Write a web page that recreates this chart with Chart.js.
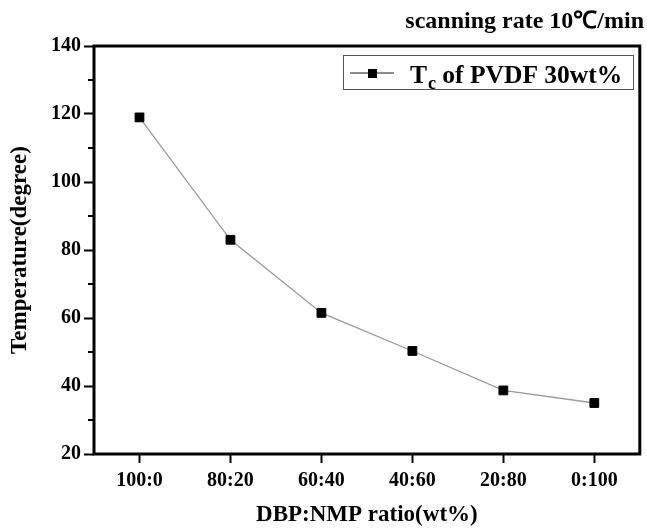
<!DOCTYPE html>
<html>
<head>
<meta charset="utf-8">
<script src="https://cdn.jsdelivr.net/npm/chart.js@4.4.1/dist/chart.umd.min.js"></script>
<style>
  html, body { margin: 0; padding: 0; background: #fff; }
  #wrap { width: 647px; height: 529px; position: relative; }
</style>
</head>
<body>
<div id="wrap"><canvas id="c" width="647" height="529"></canvas></div>
<script>
const categories = ["100:0", "80:20", "60:40", "40:60", "20:80", "0:100"];
const tcValues = [119, 83, 61.5, 50.3, 38.7, 35];
const yTicks = [20, 40, 60, 80, 100, 120, 140];
const yMinorTicks = [30, 50, 70, 90, 110, 130];
const chartTitle = "scanning rate 10\u2103/min";
const legendMain = "T";
const legendSub = "c";
const legendRest = " of PVDF 30wt%";
const xTitle = "DBP:NMP ratio(wt%)";
const yTitle = "Temperature(degree)";

const SERIF = "'Liberation Serif', 'Times New Roman', serif";

const decor = {
  id: 'decor',
  afterDatasetsDraw(chart) {
    const ctx = chart.ctx;
    const a = chart.chartArea;
    const y = chart.scales.y;
    ctx.save();
    // frame
    ctx.strokeStyle = '#000';
    ctx.lineWidth = 3;
    ctx.strokeRect(a.left, a.top, a.right - a.left, a.bottom - a.top);
    // minor ticks on y
    ctx.lineWidth = 2;
    yMinorTicks.forEach(v => {
      const py = Math.round(y.getPixelForValue(v));
      ctx.beginPath();
      ctx.moveTo(a.left - 6, py);
      ctx.lineTo(a.left, py);
      ctx.stroke();
    });
    // title
    ctx.fillStyle = '#000';
    ctx.font = "bold 24px " + SERIF;
    ctx.textAlign = 'right';
    ctx.textBaseline = 'middle';
    ctx.fillText(chartTitle, 644, 22);
    // legend box
    ctx.strokeStyle = '#555';
    ctx.lineWidth = 1;
    ctx.strokeRect(343.5, 55.5, 290, 34);
    // legend sample
    ctx.strokeStyle = '#666';
    ctx.lineWidth = 1.5;
    ctx.beginPath();
    ctx.moveTo(350, 73);
    ctx.lineTo(394, 73);
    ctx.stroke();
    ctx.fillStyle = '#000';
    ctx.fillRect(368, 69, 9, 9);
    // legend text
    ctx.textAlign = 'left';
    ctx.textBaseline = 'alphabetic';
    ctx.font = "bold 25.5px " + SERIF;
    let x = 410;
    ctx.fillText(legendMain, x, 83);
    x += ctx.measureText(legendMain).width + 1;
    ctx.font = "bold 18px " + SERIF;
    ctx.fillText(legendSub, x, 89);
    x += ctx.measureText(legendSub).width;
    ctx.font = "bold 25.5px " + SERIF;
    ctx.fillText(legendRest, x, 83);
    ctx.restore();
  }
};

new Chart(document.getElementById('c'), {
  type: 'line',
  data: {
    labels: categories,
    datasets: [{
      label: 'Tc of PVDF 30wt%',
      data: tcValues,
      borderColor: '#999',
      borderWidth: 1.3,
      pointStyle: 'rect',
      pointRadius: 6.2,
      pointBackgroundColor: '#000',
      pointBorderColor: '#000',
      pointBorderWidth: 1,
      tension: 0,
      fill: false
    }]
  },
  options: {
    responsive: false,
    animation: false,
    devicePixelRatio: 1,
    layout: { padding: { left: 0, right: 5, top: 46, bottom: 0 } },
    plugins: {
      legend: { display: false },
      title: { display: false },
      tooltip: { enabled: false }
    },
    scales: {
      x: {
        type: 'category',
        offset: true,
        afterFit(s) { s.height = 75; },
        grid: {
          display: true, drawOnChartArea: false, drawTicks: true, offset: false,
          tickLength: 9, tickWidth: 2, tickColor: '#000', color: '#000'
        },
        border: { display: false },
        ticks: {
          color: '#000', padding: 6, maxRotation: 0,
          font: { family: SERIF, size: 20, weight: 'bold' }
        },
        title: {
          display: true, text: xTitle, color: '#000',
          padding: { top: 0, bottom: 0 },
          font: { family: SERIF, size: 23, weight: 'bold' }
        }
      },
      y: {
        min: 20, max: 140,
        afterFit(s) { s.width = 94; },
        afterBuildTicks(s) { s.ticks = yTicks.map(v => ({ value: v })); },
        grid: {
          display: true, drawOnChartArea: false, drawTicks: true,
          tickLength: 10, tickWidth: 2, tickColor: '#000', color: '#000'
        },
        border: { display: false },
        ticks: {
          color: '#000', padding: 3,
          font: { family: SERIF, size: 20, weight: 'bold' }
        },
        title: {
          display: true, text: yTitle, color: '#000',
          padding: { top: 6, bottom: 0 },
          font: { family: SERIF, size: 23, weight: 'bold' }
        }
      }
    }
  },
  plugins: [decor]
});
</script>
</body>
</html>
